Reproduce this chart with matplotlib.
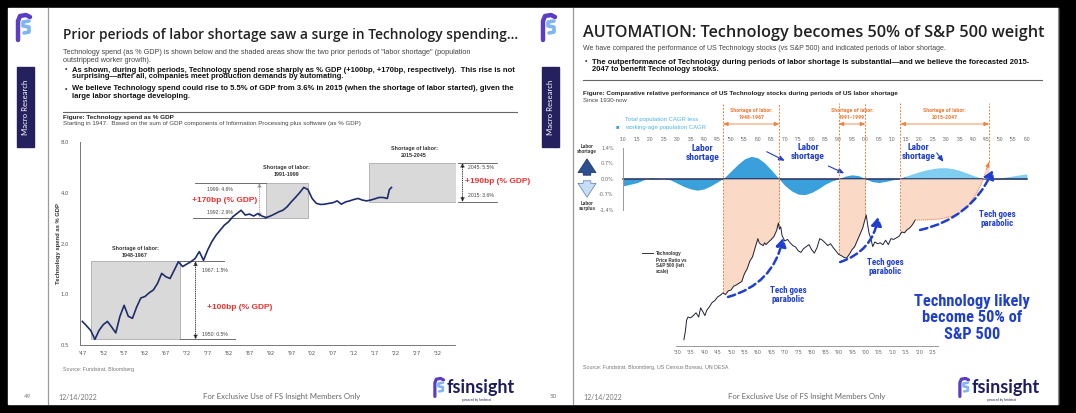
import numpy as np
import matplotlib
matplotlib.use("Agg")
import matplotlib.pyplot as plt
from matplotlib.patches import Rectangle

# ---------------- data: left chart (Technology spend as % GDP) ----------------
spend_years = [1947, 1948, 1949, 1950, 1951, 1952, 1953, 1954, 1955, 1956, 1957, 1958,
               1959, 1960, 1961, 1962, 1963, 1964, 1965, 1966, 1967, 1968, 1969, 1970,
               1971, 1972, 1973, 1974, 1975, 1976, 1977, 1978, 1979, 1980, 1981, 1982,
               1983, 1984, 1985, 1986, 1987, 1988, 1989, 1990, 1991, 1992, 1993, 1994,
               1995, 1996, 1997, 1998, 1999, 2000, 2001, 2002, 2003, 2004, 2005, 2006,
               2007, 2008, 2009, 2010, 2011, 2012, 2013, 2014, 2015, 2016, 2017, 2018,
               2019, 2020, 2020.5, 2021]
spend_pct = [0.69, 0.65, 0.61, 0.54, 0.61, 0.66, 0.69, 0.64, 0.59, 0.74, 0.86, 0.74,
             0.72, 0.84, 0.95, 0.97, 1.02, 1.06, 1.16, 1.33, 1.27, 1.24, 1.39, 1.56,
             1.46, 1.51, 1.56, 1.63, 1.79, 1.59, 1.83, 2.05, 2.24, 2.40, 2.57, 2.69,
             2.88, 3.01, 3.15, 2.95, 2.99, 2.91, 3.01, 2.91, 2.85, 2.91, 2.99, 3.08,
             3.15, 3.30, 3.53, 3.75, 4.00, 4.30, 4.18, 3.70, 3.46, 3.41, 3.42, 3.46,
             3.49, 3.58, 3.42, 3.53, 3.58, 3.65, 3.70, 3.62, 3.58, 3.62, 3.68, 3.75,
             3.75, 3.70, 4.18, 4.30]
proj_years = [2021, 2036.8]
proj_pct = [4.30, 5.91]
# shortage boxes: (x0, x1, y0, y1) and texts
box_x0 = [1949.0, 1991.0, 2015.7]
box_x1 = [1970.4, 2000.9, 2037.0]
box_lo = [0.54, 2.85, 3.53]
box_hi = [1.57, 4.58, 6.02]
box_titles = ["Shortage of labor:\n1948-1967", "Shortage of labor:\n1991-1999",
              "Shortage of labor:\n2015-2045"]
hi_labels = ["1967: 1.5%", "1999: 4.6%", "2045: 5.5%"]
lo_labels = ["1950: 0.5%", "1992: 2.9%", "2015: 3.6%"]
bp_labels = ["+100bp (% GDP)", "+170bp (% GDP)", "+190bp (% GDP)"]
left_xticks = list(range(1947, 2033, 5))
left_yticks = [0.5, 1.0, 2.0, 4.0, 8.0]

# ---------------- data: right chart ----------------
gap_years = [1910, 1912.5, 1915, 1917.5, 1920, 1922.5, 1925, 1927.5, 1930, 1932.5,
             1935, 1937.5, 1940, 1942.5, 1945, 1947.5, 1950, 1952.5, 1955, 1957.5,
             1960, 1962.5, 1965, 1967.5, 1970, 1972.5, 1975, 1977.5, 1980, 1982.5,
             1985, 1987.5, 1990, 1992.5, 1995, 1997.5, 2000, 2002.5, 2005, 2007.5,
             2010, 2012.5, 2015, 2017.5, 2020, 2022.5, 2025, 2027.5, 2030, 2032.5,
             2035, 2037.5, 2040, 2042.5, 2045, 2047.5, 2050, 2052.5, 2055, 2057.5, 2060]
gap_pct = [-0.32, -0.25, -0.18, -0.05, 0.04, 0.02, 0.00, -0.05, -0.20, -0.35,
           -0.46, -0.52, -0.46, -0.32, -0.14, 0.05, 0.35, 0.65, 0.90, 1.02,
           0.95, 0.72, 0.40, 0.05, -0.30, -0.55, -0.70, -0.72, -0.62, -0.45,
           -0.25, -0.10, 0.00, 0.12, 0.18, 0.14, 0.00, -0.13, -0.17, -0.12,
           -0.05, 0.00, 0.12, 0.22, 0.32, 0.40, 0.46, 0.50, 0.50, 0.46,
           0.38, 0.27, 0.15, 0.05, 0.01, 0.00, 0.04, 0.08, 0.13, 0.18, 0.22]
tech_years = [1932.5, 1933.0, 1933.5, 1934, 1935, 1936, 1937, 1938, 1938.7, 1939.5,
              1940.3, 1941, 1942, 1943, 1944, 1945, 1946, 1947, 1948, 1949, 1950,
              1951, 1952, 1953, 1954, 1955, 1956, 1957, 1958, 1959, 1960, 1960.5,
              1961, 1962, 1962.5, 1963, 1964, 1965, 1966, 1967, 1967.6, 1968, 1968.5,
              1969, 1970, 1971, 1972, 1973, 1974, 1975, 1976, 1977, 1978, 1979, 1980,
              1981, 1982, 1983, 1984, 1985, 1986, 1987, 1988, 1989, 1990, 1991, 1992,
              1993, 1994, 1995, 1996, 1997, 1998, 1999, 1999.7, 2000.3, 2000.8, 2001.3,
              2002, 2002.7, 2003.5, 2004.5, 2005.5, 2006.5, 2007.5, 2008.5, 2009.5,
              2010.5, 2011.5, 2012.5, 2013.5, 2014.5, 2015.5, 2016.5, 2017.5, 2018.5]
tech_ratio = [1.2, 1.5, 2.1, 2.3, 2.25, 2.4, 2.6, 2.3, 3.0, 2.7,
              2.4, 2.8, 3.1, 3.5, 3.7, 4.1, 4.3, 4.6, 4.4, 4.9, 5.0,
              5.6, 5.8, 6.1, 6.4, 8.0, 9.2, 11.5, 13.0, 17.0, 22.0, 19.5,
              18.8, 18.0, 19.5, 18.5, 20.0, 21.5, 23.5, 28.0, 34.5, 29.0, 31.0,
              24.0, 20.5, 21.5, 19.5, 18.0, 17.3, 15.5, 14.8, 16.5, 17.5, 18.5, 16.0,
              14.5, 17.0, 22.0, 21.0, 19.5, 18.0, 19.0, 17.0, 15.5, 14.0, 13.5, 12.8,
              12.6, 14.0, 16.0, 17.5, 21.0, 25.0, 30.0, 37.0, 43.4, 33.0, 26.0,
              22.0, 17.5, 20.0, 19.0, 19.5, 18.5, 21.0, 18.5, 22.0,
              21.5, 22.5, 23.5, 26.6, 26.0, 28.5, 30.0, 33.0, 37.6]
fc_years = [2018.5, 2022, 2027, 2030, 2033, 2035, 2038, 2041, 2043, 2045, 2046]
fc_ratio = [37.6, 37.7, 38.5, 40.0, 43.0, 46.0, 56.0, 78.0, 105.0, 160.0, 201.0]
shortage_start = [1947, 1990, 2013]
shortage_end = [1968, 2000, 2046]
shortage_names = ["Shortage of labor:\n1948-1967", "Shortage of labor:\n1991-1999",
                  "Shortage of labor:\n2015-2047"]
top_ticks = list(range(1910, 2061, 5))
bottom_ticks = list(range(1930, 2026, 5))
gap_ticks = [-1.4, -0.7, 0.0, 0.7, 1.4]

# ---------------- figure ----------------
W, H = 1076, 413
fig = plt.figure(figsize=(W / 100, H / 100), dpi=100)
fig.patch.set_facecolor("black")
ov = fig.add_axes([0, 0, 1, 1])
ov.set_xlim(0, W)
ov.set_ylim(H, 0)
ov.axis("off")

SANS = ["Liberation Sans", "DejaVu Sans"]
HEAD = ["Open Sans", "DejaVu Sans"]
NARROW = ["Liberation Sans Narrow", "Roboto Condensed", "Liberation Sans", "DejaVu Sans"]
LATO = ["Lato", "DejaVu Sans"]
BLUE = "#1f3fcf"
ORANGE = "#f07f3c"
RED = "#e8312f"
NAVY = "#1f2a5c"

ov.add_patch(Rectangle((8, 8), 1050, 396, color="white", zorder=0))
ov.plot([1058, 1058], [8, 404], color="#888", lw=0.8)


def T(x, y, s, **kw):
    kw.setdefault("va", "center")
    kw.setdefault("ha", "left")
    kw.setdefault("family", SANS)
    return ov.text(x, y, s, **kw)


def logo(x0, y0, s=1.0):
    ov.plot([x0 + 4 * s, x0 + 4 * s, x0 + 6 * s, x0 + 12 * s, x0 + 16 * s],
            [y0 + 27 * s, y0 + 8 * s, y0 + 3 * s, y0 + 2 * s, y0 + 4 * s],
            color="#5b3cc4", lw=3.2 * s, solid_capstyle="round", solid_joinstyle="round")
    ov.plot([x0 + 15 * s, x0 + 9 * s, x0 + 9 * s, x0 + 15 * s, x0 + 15 * s, x0 + 10 * s],
            [y0 + 8 * s, y0 + 9 * s, y0 + 13 * s, y0 + 14 * s, y0 + 19 * s, y0 + 20 * s],
            color="#7fb6f2", lw=2.6 * s, solid_capstyle="round", solid_joinstyle="round")


for sx, page in [(0, "49"), (525, "50")]:
    logo(sx + 14, 13)
    ov.plot([sx + 48, sx + 48], [8, 404], color="#9a9a9a", lw=0.9)
    ov.add_patch(Rectangle((sx + 17, 67), 17, 80, color="#25215f"))
    T(sx + 25.5, 107, "Macro Research", rotation=90, ha="center", color="white",
      fontsize=5.6, family=LATO)
    T(sx + 28, 397, page, fontsize=4.5, color="#777", ha="center", family=LATO)
    T(sx + 58, 397, "12/14/2022", fontsize=5, color="#777", family=LATO)
    T(sx + 203, 397, "For Exclusive Use of FS Insight Members Only", fontsize=5.6,
      color="#666", family=LATO)
    logo(sx + 432, 377, 0.72)
    T(sx + 447, 387, "fsinsight", fontsize=13, color="#1d1d5e", weight="bold", family=LATO)
    T(sx + 462, 400, "powered by fundstrat", fontsize=2.2, color="#1d1d5e", family=LATO)

# ---- left slide text ----
T(63, 35, "Prior periods of labor shortage saw a surge in Technology spending…",
  fontsize=9.9, family=HEAD, weight="semibold", color="#222")
T(63, 53, "Technology spend (as % GDP) is shown below and the shaded areas show the two prior "
  "periods of \"labor shortage\" (population", fontsize=5.2, color="#444")
T(63, 60, "outstripped worker growth).", fontsize=5.2, color="#444")
T(65, 70, "•", fontsize=5, color="#333")
T(72, 70, "As shown, during both periods, Technology spend rose sharply as % GDP (+100bp, +170bp, "
  "respectively).  This rise is not", fontsize=5.5, color="#111", weight="bold")
T(72, 77, "surprising—after all, companies meet production demands by automating.",
  fontsize=5.5, color="#111", weight="bold")
T(65, 89, "•", fontsize=5, color="#333")
T(72, 89, "We believe Technology spend could rise to 5.5% of GDP from 3.6% in 2015 (when the "
  "shortage of labor started), given the", fontsize=5.5, color="#111", weight="bold")
T(72, 96, "large labor shortage developing.", fontsize=5.5, color="#111", weight="bold")
ov.plot([63, 517], [111.5, 111.5], color="#666", lw=0.8)
T(63, 117, "Figure: Technology spend as % GDP", fontsize=4.6, weight="bold", color="#222")
T(63, 123, "Starting in 1947.  Based on the sum of GDP components of Information Processing "
  "plus software (as % GDP)", fontsize=4.4, color="#444")
T(63, 369, "Source: Fundstrat, Bloomberg", fontsize=3.8, color="#777")

# ---- right slide text ----
R = 525
T(R + 58, 33, "AUTOMATION: Technology becomes 50% of S&P 500 weight", fontsize=11.7,
  family=HEAD, weight="semibold", color="#222")
T(R + 58, 48, "We have compared the performance of US Technology stocks (vs S&P 500) and "
  "indicated periods of labor shortage.", fontsize=5.0, color="#444")
T(R + 60, 62, "•", fontsize=5, color="#333")
T(R + 67, 62, "The outperformance of Technology during periods of labor shortage is "
  "substantial—and we believe the forecasted 2015-", fontsize=5.5, color="#111", weight="bold")
T(R + 67, 69.5, "2047 to benefit Technology stocks.", fontsize=5.5, color="#111", weight="bold")
ov.plot([R + 58, R + 517], [80, 80], color="#666", lw=0.8)
T(R + 58, 93, "Figure: Comparative relative performance of US Technology stocks during periods "
  "of US labor shortage", fontsize=4.6, weight="bold", color="#222")
T(R + 58, 100, "Since 1930-now", fontsize=4.4, color="#444")
T(R + 58, 368, "Source: Fundstrat, Bloomberg, US Census Bureau, UN DESA", fontsize=3.8, color="#777")

# ---------------- left chart ----------------
axL = fig.add_axes([80 / W, (H - 345) / H, (455 - 80) / W, (345 - 142) / H])
axL.patch.set_alpha(0)
axL.set_yscale("log", base=2)
axL.set_xlim(1946.44, 2036.2)
axL.set_ylim(0.5, 8.0)
for sp in ["top", "right"]:
    axL.spines[sp].set_visible(False)
for sp in ["left", "bottom"]:
    axL.spines[sp].set_color("#777")
    axL.spines[sp].set_linewidth(0.7)
axL.set_xticks(left_xticks)
axL.set_xticklabels(["'%02d" % (y % 100) for y in left_xticks])
axL.set_yticks(left_yticks)
axL.set_yticklabels(["%.1f" % v for v in left_yticks])
axL.yaxis.set_minor_locator(matplotlib.ticker.NullLocator())
axL.tick_params(length=0, labelsize=3.8, labelcolor="#555")
axL.tick_params(axis="y", pad=8)
axL.tick_params(axis="x", pad=4)
axL.set_ylabel("Technology spend as % GDP", fontsize=4.2, weight="bold", family=SANS,
               color="#333", labelpad=0)

for i in range(3):
    axL.fill_between([box_x0[i], box_x1[i]], box_lo[i], box_hi[i], facecolor="#d9d9d9",
                     edgecolor="#a0a0a0", lw=0.5, zorder=1)
# extension lines
axL.plot([box_x1[0], 1980.8], [box_hi[0]] * 2, color="#555", lw=0.6, clip_on=False)
axL.plot([box_x1[0], 1983.6], [box_lo[0]] * 2, color="#555", lw=0.6, clip_on=False)
axL.plot([1974.0, box_x0[1]], [box_hi[1]] * 2, color="#555", lw=0.6, clip_on=False)
axL.plot([1973.6, box_x0[1]], [box_lo[1]] * 2, color="#555", lw=0.6, clip_on=False)
axL.plot([box_x1[2], 2046.2], [box_hi[2]] * 2, color="#555", lw=0.6, clip_on=False)
axL.plot([box_x1[2], 2046.2], [box_lo[2]] * 2, color="#555", lw=0.6, clip_on=False)
for xa, i, col in [(1974.1, 0, "#222"), (1989.4, 1, "#999"), (2038.0, 2, "#222")]:
    axL.annotate("", xy=(xa, box_hi[i]), xytext=(xa, box_lo[i]),
                 arrowprops=dict(arrowstyle="<|-|>,head_length=0.25,head_width=0.12", color=col,
                                 lw=0.6, linestyle=":", shrinkA=0, shrinkB=0),
                 annotation_clip=False)

# labels
title_pos = [(1959.6, 1.78), (1995.9, 5.4), (2026.4, 6.96)]
for i in range(3):
    axL.text(*title_pos[i], box_titles[i], ha="center", va="center", fontsize=3.9,
             weight="bold", family=SANS, color="#333", linespacing=1.4)
for (x, y), s in zip([(1975.6, 1.39), (1976.8, 4.18), (2039.2, 5.62)], hi_labels):
    axL.text(x, y, s, fontsize=3.7, family=SANS, color="#444", va="center", clip_on=False)
for (x, y), s in zip([(1975.6, 0.58), (1976.8, 3.04), (2039.2, 3.87)], lo_labels):
    axL.text(x, y, s, fontsize=3.7, family=SANS, color="#444", va="center", clip_on=False)
for (x, y), s in zip([(1976.8, 0.84), (1973.2, 3.58), (2038.6, 4.64)], bp_labels):
    axL.text(x, y, s, fontsize=6.0, family=SANS, color=RED, weight="bold", va="center",
             clip_on=False)

axL.plot(spend_years, spend_pct, color="#1f2d6b", lw=1.2, zorder=3)
axL.annotate("", xy=(proj_years[1], proj_pct[1]), xytext=(proj_years[0], proj_pct[0]),
             arrowprops=dict(arrowstyle="-|>,head_length=0.3,head_width=0.15", color="#1f2d6b",
                             lw=0.9, linestyle="--", shrinkA=0, shrinkB=0), zorder=3)

# ---------------- right chart ----------------
axR = fig.add_axes([600 / W, (H - 346) / H, 440 / W, 246 / H])
axR.patch.set_alpha(0)
axR.set_xlim(1901.3, 2064.9)
axR.set_ylim(-7.6, 3.58)
for sp in ["top", "right"]:
    axR.spines[sp].set_visible(False)
axR.spines["left"].set_position(("data", 1910))
axR.spines["left"].set_bounds(-1.4, 1.4)
axR.spines["bottom"].set_bounds(1929.5, 2027)
for sp in ["left", "bottom"]:
    axR.spines[sp].set_color("#999")
    axR.spines[sp].set_linewidth(0.7)
axR.set_yticks(gap_ticks)
axR.set_yticklabels(["%.1f%%" % v for v in gap_ticks])
axR.set_xticks(bottom_ticks)
axR.set_xticklabels(["'%02d" % (y % 100) for y in bottom_ticks])
axR.tick_params(length=0, labelsize=3.6, labelcolor="#666")
axR.tick_params(axis="y", pad=7)
axR.tick_params(axis="x", pad=3)
for yv in top_ticks:
    axR.text(yv, 1.8, "'%02d" % (yv % 100), ha="center", va="center", fontsize=3.6,
             color="#666", family=SANS)

g_years = np.array(gap_years)
g_pct = np.array(gap_pct)
hist = g_years <= 2015
axR.fill_between(g_years[hist], 0, g_pct[hist], color="#3aa0dc", lw=0, zorder=1)
fut = g_years >= 2015
axR.fill_between(g_years[fut], 0, g_pct[fut], color="#7fcdf0", lw=0, zorder=1)
axR.plot([gap_years[0], gap_years[-1]], [0, 0], color=NAVY, lw=1.1, zorder=2)

axT = axR.twinx()
axT.set_yscale("log")
axT.set_ylim(1, 1189)
axT.axis("off")
fig.canvas.draw()
to_disp = axR.transData
inv_T = axT.transData.inverted()


def pct_to_ratio(x, p):
    return inv_T.transform(to_disp.transform((x, p)))[1]


zero_ratio = pct_to_ratio(2000, 0.0)
top_ratio = pct_to_ratio(2000, 3.44)
arrow_ratio = pct_to_ratio(2000, 2.49)

all_x = np.array(tech_years + fc_years[1:])
all_y = np.array(tech_ratio + fc_ratio[1:])
for s0, s1 in zip(shortage_start, shortage_end):
    m = (all_x >= s0) & (all_x <= s1)
    xs = np.concatenate([[s0], all_x[m], [s1]])
    ys = np.concatenate([[np.interp(s0, all_x, all_y)], all_y[m], [np.interp(s1, all_x, all_y)]])
    axT.fill_between(xs, ys, zero_ratio, color="#fbd3bd", alpha=0.85, lw=0, zorder=1)
    for xv in (s0, s1):
        axT.plot([xv, xv], [np.interp(xv, all_x, all_y), top_ratio], color=ORANGE, lw=0.7,
                 linestyle=(0, (2, 1.5)), zorder=2, clip_on=False)
    axT.annotate("", xy=(s1, arrow_ratio), xytext=(s0, arrow_ratio),
                 arrowprops=dict(arrowstyle="<|-|>,head_length=0.3,head_width=0.12",
                                 color=ORANGE, lw=0.6, shrinkA=0, shrinkB=0),
                 annotation_clip=False)
for s0, s1, nm in zip(shortage_start, shortage_end, shortage_names):
    axT.text((s0 + s1) / 2, pct_to_ratio(2000, 2.95), nm, ha="center", va="center",
             fontsize=4.2, color=ORANGE, weight="bold", family=NARROW, linespacing=1.5,
             clip_on=False)

axT.plot(tech_years, tech_ratio, color="#1e2238", lw=0.7, zorder=3)
axT.plot(fc_years, fc_ratio, color=ORANGE, lw=0.7, linestyle=(0, (1, 1)), zorder=3)
axT.annotate("", xy=(fc_years[-1], fc_ratio[-1]), xytext=(fc_years[-2], fc_ratio[-2]),
             arrowprops=dict(arrowstyle="-|>,head_length=0.3,head_width=0.12", color=ORANGE,
                             lw=0.6, shrinkA=0, shrinkB=0))

# blue annotations
for (tx, tp), (a0, a1) in zip([(1939.3, 1.17), (1978.6, 1.21), (2019.7, 1.21)],
                               [((1963.3, 1.23), (1970.0, 0.82)),
                                ((1986.2, 0.58), (1992.1, 0.25)),
                                ((2026.5, 1.18), (2029.0, 0.77))]):
    axR.text(tx, tp, "Labor\nshortage", ha="center", va="center", fontsize=6.8, color=BLUE,
             weight="bold", family=NARROW, linespacing=1.05, zorder=5)
    axR.annotate("", xy=a1, xytext=a0,
                 arrowprops=dict(arrowstyle="-|>,head_length=0.35,head_width=0.15", color=BLUE,
                                 lw=0.8, shrinkA=0, shrinkB=0), zorder=5)

for (tx, ty), (a0, a1), rad in zip([(1971.3, 4.34), (2007.2, 9.7), (2048.9, 38.7)],
                                   [((1948.9, 4.1), (1969.4, 22.4)),
                                    ((1990.6, 11.2), (2004.7, 41.0)),
                                    ((2020.3, 28.2), (2047.4, 158.0))],
                                   [0.3, 0.3, 0.25]):
    axT.text(tx, ty, "Tech goes\nparabolic", ha="center", va="center", fontsize=6.4,
             color=BLUE, weight="bold", family=NARROW, linespacing=1.1, zorder=5)
    axT.annotate("", xy=a1, xytext=a0,
                 arrowprops=dict(arrowstyle="-|>,head_length=0.5,head_width=0.3", color=BLUE,
                                 lw=1.8, linestyle=(0, (3, 1.6)), shrinkA=0, shrinkB=0,
                                 connectionstyle="arc3,rad=%s" % rad), zorder=5)

axT.text(2039.7, 2.24, "Technology likely\nbecome 50% of\nS&P 500", ha="center", va="center",
         fontsize=11.8, color=BLUE, weight="bold", family=NARROW, linespacing=1.15, zorder=5)

# legends / left labels
T(617, 127, "■", fontsize=4, color="#3aa0dc", ha="center")
T(625, 119, "Total population CAGR less", fontsize=4.3, color="#4fb3e8")
T(625, 127, "working-age population CAGR", fontsize=4.3, color="#4fb3e8")
ov.plot([642, 653], [253, 253], color="#333", lw=0.7)
T(656, 263, "Technology\nPrice Ratio vs\nS&P 500 (left\nscale)", fontsize=3.3, color="#333",
  weight="bold", linespacing=1.25)
T(587, 149, "Labor\nshortage", fontsize=3.3, color="#333", weight="bold", ha="center",
  linespacing=1.1)
T(587, 206, "Labor\nsurplus", fontsize=3.3, color="#333", weight="bold", ha="center",
  linespacing=1.1)
ov.annotate("", xy=(587, 156), xytext=(587, 178),
            arrowprops=dict(arrowstyle="simple,head_width=1.3,head_length=1.0,tail_width=0.55",
                            fc="#2c4f8f", ec="#1c2f5f", lw=0.5))
ov.annotate("", xy=(587, 200), xytext=(587, 178),
            arrowprops=dict(arrowstyle="simple,head_width=1.3,head_length=1.0,tail_width=0.55",
                            fc="#c7dcf5", ec="#5a7ab0", lw=0.5))

fig.savefig("out.png", dpi=100, facecolor=fig.get_facecolor())
